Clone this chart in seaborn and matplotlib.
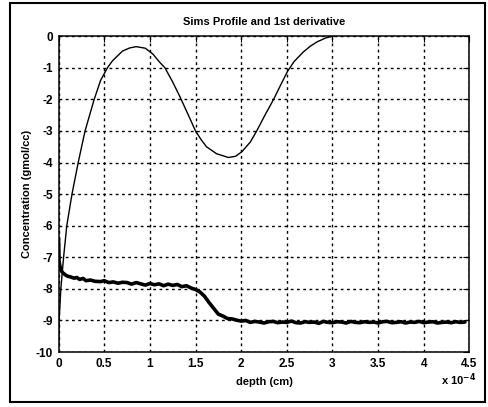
import numpy as np
import pandas as pd
import matplotlib
matplotlib.use("Agg")
import matplotlib.pyplot as plt
import seaborn as sns
from matplotlib.patches import Rectangle

# ---- data (depth in units of 1e-4 cm) ----
deriv_depth = [0.0, 0.006, 0.025, 0.055, 0.09, 0.147, 0.215, 0.29, 0.39, 0.46, 0.535,
               0.59, 0.70, 0.78, 0.85, 0.95, 1.035, 1.1, 1.165, 1.25, 1.33,
               1.43, 1.5, 1.56, 1.62, 1.73, 1.86, 1.94, 2.01, 2.1, 2.17, 2.26, 2.355,
               2.44, 2.51, 2.58, 2.68, 2.76, 2.83, 2.93, 3.0, 3.03]
deriv_conc = [-9.8, -9.0, -8.0, -7.0, -6.0, -5.0, -4.0, -3.0, -2.0, -1.4, -1.0,
              -0.78, -0.47, -0.37, -0.33, -0.38, -0.57, -0.8, -1.0, -1.45, -1.92,
              -2.55, -3.0, -3.27, -3.5, -3.72, -3.84, -3.8, -3.65, -3.35, -3.0, -2.5, -2.0,
              -1.5, -1.1, -0.8, -0.5, -0.31, -0.18, -0.05, 0.0, 0.02]

sims_depth = [0.0, 0.005, 0.01, 0.02, 0.035, 0.05, 0.072, 0.1, 0.13, 0.17, 0.2, 0.23,
              0.27, 0.3, 0.35, 0.4, 0.46, 0.5, 0.55, 0.6, 0.65, 0.7, 0.75, 0.8, 0.85,
              0.9, 0.95, 1.0, 1.05, 1.1, 1.15, 1.2, 1.25, 1.3, 1.35, 1.4, 1.45, 1.5,
              1.55, 1.6, 1.65, 1.7, 1.75, 1.8, 1.85, 1.9, 1.95, 2.0, 2.05, 2.1, 2.15,
              2.2, 2.25, 2.3, 2.35, 2.4, 2.45, 2.5, 2.55, 2.6, 2.65, 2.7, 2.75, 2.8,
              2.85, 2.9, 2.95, 3.0, 3.05, 3.1, 3.15, 3.2, 3.25, 3.3, 3.35, 3.4, 3.45,
              3.5, 3.55, 3.6, 3.65, 3.7, 3.75, 3.8, 3.85, 3.9, 3.95, 4.0, 4.05, 4.1,
              4.15, 4.2, 4.25, 4.3, 4.35, 4.4, 4.45]
sims_conc = [-6.4, -7.1, -7.2, -7.35, -7.45, -7.5, -7.55, -7.6, -7.62, -7.66, -7.64,
             -7.7, -7.67, -7.74, -7.72, -7.76, -7.77, -7.74, -7.8, -7.78, -7.82, -7.79,
             -7.8, -7.85, -7.8, -7.84, -7.88, -7.83, -7.87, -7.84, -7.9, -7.85, -7.89,
             -7.86, -7.93, -7.9, -7.97, -8.02, -8.1, -8.24, -8.44, -8.62, -8.8, -8.86,
             -8.94, -8.95, -8.99, -9.02, -9.0, -9.06, -9.03, -9.05, -9.08, -9.04, -9.03,
             -9.07, -9.05, -9.06, -9.02, -9.07, -9.08, -9.04, -9.06, -9.05, -9.09, -9.03,
             -9.06, -9.07, -9.04, -9.05, -9.08, -9.03, -9.06, -9.07, -9.04, -9.06, -9.05,
             -9.08, -9.04, -9.03, -9.07, -9.06, -9.04, -9.08, -9.05, -9.06, -9.03, -9.07,
             -9.05, -9.04, -9.08, -9.06, -9.05, -9.07, -9.04, -9.06, -9.05]

x_ticks = [0, 0.5, 1, 1.5, 2, 2.5, 3, 3.5, 4, 4.5]
x_tick_labels = ["0", "0.5", "1", "1.5", "2", "2.5", "3", "3.5", "4", "4.5"]
y_ticks = [0, -1, -2, -3, -4, -5, -6, -7, -8, -9, -10]
y_tick_labels = ["0", "-1", "-2", "-3", "-4", "-5", "-6", "-7", "-8", "-9", "-10"]

title = "Sims Profile and 1st derivative"
xlabel = "depth (cm)"
ylabel = "Concentration (gmol/cc)"

# ---- plotting ----
sns.set_style("white")
plt.rcParams["font.family"] = ["Liberation Sans", "DejaVu Sans"]
plt.rcParams["font.weight"] = "bold"

fig = plt.figure(figsize=(4.88, 4.07), dpi=100)
ax = fig.add_axes([0.120, 0.135, 0.842, 0.776])

df_d = pd.DataFrame({"depth": deriv_depth, "conc": deriv_conc})
df_s = pd.DataFrame({"depth": sims_depth, "conc": sims_conc})

sns.lineplot(data=df_d, x="depth", y="conc", ax=ax, color="black", lw=1.0,
             estimator=None, sort=False)
sns.lineplot(data=df_s, x="depth", y="conc", ax=ax, color="black", lw=2.6,
             estimator=None, sort=False)

ax.set_xlim(0, 4.5)
ax.set_ylim(-10, 0)
ax.set_xticks(x_ticks)
ax.set_xticklabels(x_tick_labels)
ax.set_yticks(y_ticks)
ax.set_yticklabels(y_tick_labels)
ax.grid(True, color="black", linestyle=(0, (2, 2.5)), linewidth=1.0)
ax.tick_params(direction="in", length=4, width=0.8, colors="black",
               labelsize=8.5, top=True, right=True, pad=4)
for s in ax.spines.values():
    s.set_visible(True)
    s.set_color("black")
    s.set_linewidth(1.1)

ax.set_xlabel(xlabel, fontsize=8, labelpad=5, color="black", fontweight="bold")
ax.set_ylabel(ylabel, fontsize=8, labelpad=3, color="black", fontweight="bold")
ax.set_title(title, fontsize=8, pad=8, color="black", fontweight="bold")

fig.text(0.903, 0.055, r"x 10$^{-4}$", fontsize=8, color="black", fontweight="bold")

fig.patches.append(Rectangle((0.021, 0.012), 0.972, 0.98, transform=fig.transFigure,
                             fill=False, edgecolor="black", linewidth=1.5))

fig.savefig("out.png", dpi=100)
